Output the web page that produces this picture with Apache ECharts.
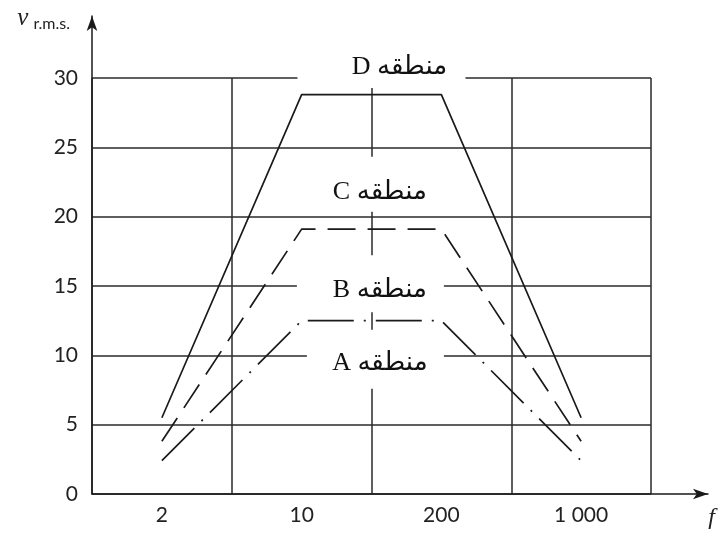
<!DOCTYPE html>
<html>
<head>
<meta charset="utf-8">
<script src="https://cdn.jsdelivr.net/npm/echarts@6/dist/echarts.min.js"></script>
<style>html,body{margin:0;padding:0;background:#fff}#c{width:718px;height:535px}</style>
</head>
<body>
<div id="c"></div>
<script>
// ---- data ----
var categories = ['2', '10', '200', '1 000'];
var zoneD = [5.5, 28.8, 28.8, 5.5];
var zoneC = [3.8, 19.1, 19.1, 3.8];
var zoneAB = [2.4, 12.5, 12.5, 2.4];
var yTicks = [0, 5, 10, 15, 20, 25, 30];
var zoneNames = ['منطقه D', 'منطقه C', 'منطقه B', 'منطقه A'];
var zoneLabelX = [2.2, 2.06, 2.06, 2.06];
var zoneLabelY = [30.8, 21.8, 14.7, 9.4];

// ---- styles (not data) ----
var boxSizes = [[168, 38], [150, 55], [147, 57], [137, 59]];
var boxOffsets = [[-18, 2], [-5, -7.5], [-9.5, -6.5], [-4.5, -4.5]];
var ink = '#1a1a1a';
var gridInk = '#2a2a2a';
var sans = 'Lato, "Open Sans", sans-serif';
var serif = '"Liberation Serif", "DejaVu Serif", "DejaVu Sans", serif';

var chart = echarts.init(document.getElementById('c'));

var boxData = zoneNames.map(function (n, i) {
  return {
    value: [zoneLabelX[i], zoneLabelY[i]],
    symbolSize: boxSizes[i],
    symbolOffset: boxOffsets[i]
  };
});
var textData = zoneNames.map(function (n, i) {
  return { name: '\u202B' + n + '\u202C', value: [zoneLabelX[i], zoneLabelY[i]] };
});

chart.setOption({
  animation: false,
  backgroundColor: '#fff',
  grid: [
    { left: 92, right: 67, top: 78, bottom: 41 },
    { left: 92, right: 9, top: 16, bottom: 41 }
  ],
  xAxis: [
    {
      gridIndex: 0, type: 'category', data: categories, boundaryGap: true,
      axisLine: { show: false }, axisTick: { show: false },
      axisLabel: { color: '#222', fontFamily: sans, fontSize: 21, margin: 11 },
      splitLine: { show: true, lineStyle: { color: gridInk, width: 1.5 } }
    },
    {
      gridIndex: 0, type: 'value', min: 0, max: 4, show: false
    },
    {
      gridIndex: 1, type: 'value', min: 0, max: 1,
      axisLine: { show: true, symbol: ['none', 'arrow'], symbolSize: [8, 15], lineStyle: { color: ink, width: 1.5 } },
      axisTick: { show: false }, axisLabel: { show: false }, splitLine: { show: false },
      name: 'f', nameLocation: 'end', nameGap: 7,
      nameTextStyle: { fontFamily: serif, fontStyle: 'italic', fontSize: 24, color: '#222', align: 'right', verticalAlign: 'top', padding: [12, 0, 0, 0] }
    }
  ],
  yAxis: [
    {
      gridIndex: 0, type: 'value', min: 0, max: 30, interval: 5,
      axisLine: { show: false }, axisTick: { show: false },
      axisLabel: { color: '#222', fontFamily: sans, fontSize: 21, margin: 14 },
      splitLine: { show: true, lineStyle: { color: gridInk, width: 1.5 } }
    },
    {
      gridIndex: 1, type: 'value', min: 0, max: 1,
      axisLine: { show: true, symbol: ['none', 'arrow'], symbolSize: [8, 15], lineStyle: { color: ink, width: 1.5 } },
      axisTick: { show: false }, axisLabel: { show: false }, splitLine: { show: false },
      name: '{v|v}{s|r.m.s.}', nameLocation: 'end', nameGap: 12,
      nameTextStyle: {
        align: 'right', verticalAlign: 'top', padding: [0, 22, 0, 0],
        rich: {
          v: { fontFamily: serif, fontStyle: 'italic', fontSize: 25, color: '#222', padding: [0, 5, 0, 0] },
          s: { fontFamily: sans, fontSize: 16, color: '#222', padding: [12, 0, 0, 0] }
        }
      }
    }
  ],
  series: [
    {
      type: 'line', xAxisIndex: 0, yAxisIndex: 0, data: zoneD, symbol: 'none',
      lineStyle: { color: ink, width: 1.7, type: 'solid' }, z: 3
    },
    {
      type: 'line', xAxisIndex: 0, yAxisIndex: 0, data: zoneC, symbol: 'none',
      lineStyle: { color: ink, width: 1.7, type: [28, 12] }, z: 3
    },
    {
      type: 'line', xAxisIndex: 0, yAxisIndex: 0, data: zoneAB, symbol: 'none',
      lineStyle: { color: ink, width: 1.7, type: [46, 10, 2, 10] }, z: 3
    },
    {
      type: 'scatter', xAxisIndex: 1, yAxisIndex: 0, data: boxData, symbol: 'rect',
      itemStyle: { color: '#fff', opacity: 1 }, clip: false, silent: true, z: 2
    },
    {
      type: 'scatter', xAxisIndex: 1, yAxisIndex: 0, data: textData, symbolSize: 1,
      itemStyle: { color: 'rgba(0,0,0,0)', opacity: 1 }, clip: false, silent: true, z: 4,
      label: {
        show: true, position: 'inside', formatter: '{b}',
        fontFamily: serif, fontSize: 26, color: '#111'
      }
    }
  ]
});
</script>
</body>
</html>
